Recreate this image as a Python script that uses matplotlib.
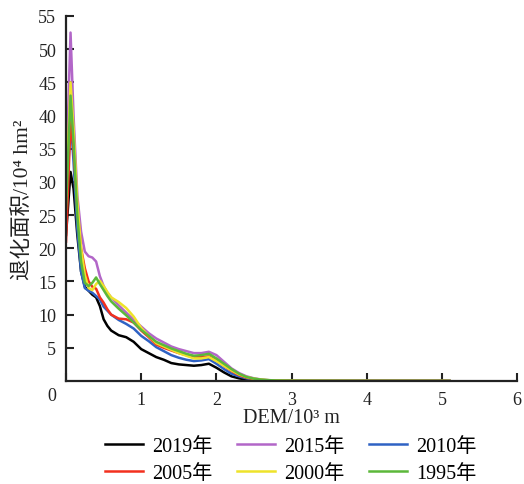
import matplotlib
matplotlib.use("Agg")
import matplotlib.pyplot as plt

plt.rcParams['font.family'] = ['Liberation Serif', 'DejaVu Serif', 'Noto Sans CJK SC']

dem = [0, 0.06, 0.1, 0.15, 0.2, 0.25, 0.3, 0.35, 0.4, 0.45, 0.5, 0.55, 0.6, 0.7, 0.8,
       0.9, 1.0, 1.1, 1.2, 1.3, 1.4, 1.5, 1.6, 1.7, 1.8, 1.9, 2.0, 2.1, 2.2, 2.3,
       2.4, 2.5, 2.6, 2.7, 2.8, 3.0, 3.5, 4.0, 4.5, 5.0, 5.1]

y2019 = [22, 31.5, 29, 22, 16.5, 14.2, 13.6, 13.0, 12.6, 11.3, 9.3, 8.3, 7.6, 6.9, 6.6,
         5.9, 4.8, 4.2, 3.6, 3.2, 2.7, 2.5, 2.4, 2.3, 2.4, 2.6, 2.0, 1.3, 0.7, 0.4,
         0.2, 0.12, 0.08, 0.05, 0.03, 0.02, 0.01, 0.01, 0.01, 0.01, 0.0]
y2015 = [30, 52.5, 40, 28, 22.5, 19.5, 18.8, 18.6, 18.0, 15.8, 14.3, 13.3, 12.6, 11.4, 10.3,
         9.2, 8.2, 7.2, 6.4, 5.8, 5.2, 4.8, 4.5, 4.2, 4.2, 4.4, 3.9, 2.9, 1.9, 1.2,
         0.7, 0.4, 0.22, 0.12, 0.07, 0.03, 0.02, 0.01, 0.01, 0.01, 0.0]
y2010 = [24, 40, 33, 23, 16.5, 14.0, 13.6, 13.3, 12.8, 12.3, 11.2, 10.6, 10.0, 9.2, 8.6,
         7.9, 6.8, 6.0, 5.1, 4.5, 3.9, 3.5, 3.2, 3.0, 3.1, 3.3, 2.6, 1.8, 1.1, 0.7,
         0.4, 0.22, 0.12, 0.07, 0.04, 0.02, 0.01, 0.01, 0.01, 0.01, 0.0]
y2005 = [21, 39, 35, 26, 20, 17, 15, 14.2, 13.9, 12.6, 11.8, 10.8, 10.0, 9.4, 9.3,
         8.8, 7.6, 6.6, 5.5, 5.0, 4.6, 4.2, 3.9, 3.6, 3.6, 3.7, 3.1, 2.3, 1.5, 0.9,
         0.5, 0.28, 0.15, 0.08, 0.05, 0.02, 0.01, 0.01, 0.01, 0.01, 0.0]
y2000 = [28, 45, 38, 27, 20, 16, 14.0, 13.7, 14.6, 15.1, 14.3, 13.4, 12.6, 11.9, 11.0,
         9.7, 8.0, 6.8, 5.7, 5.2, 4.7, 4.2, 3.8, 3.4, 3.4, 3.6, 3.0, 2.3, 1.6, 1.0,
         0.6, 0.35, 0.2, 0.12, 0.07, 0.03, 0.02, 0.01, 0.01, 0.01, 0.0]
y1995 = [26, 43, 36, 25, 18, 14.8, 14.3, 14.8, 15.6, 14.6, 13.7, 12.8, 12.0, 10.9, 9.9,
         8.8, 7.7, 6.8, 5.9, 5.4, 4.9, 4.5, 4.1, 3.8, 3.9, 4.1, 3.4, 2.6, 1.8, 1.1,
         0.6, 0.35, 0.2, 0.12, 0.07, 0.03, 0.02, 0.01, 0.01, 0.01, 0.0]

labels = ['2019年', '2015年', '2010年', '2005年', '2000年', '1995年']
series = [y2019, y2015, y2010, y2005, y2000, y1995]
colors = ['#000000', '#b266c8', '#2f62c4', '#f2301e', '#eee32a', '#5cb83a']

xticks = [0, 1, 2, 3, 4, 5, 6]
xticklabels = ['', '1', '2', '3', '4', '5', '6']
yticks = [5, 10, 15, 20, 25, 30, 35, 40, 45, 50, 55]

fig = plt.figure(figsize=(5.24, 4.85), dpi=100)
ax = fig.add_axes([0.126, 0.2124, 0.861, 0.7526])

handles = []
for lab, ys, c in zip(labels, series, colors):
    h, = ax.plot(dem, ys, color=c, lw=1.8, label=lab)
    handles.append(h)

ax.set_xlim(0, 6)
ax.set_ylim(0, 55)
ax.set_xticks(xticks)
ax.set_xticklabels(xticklabels)
ax.set_yticks(yticks)
ax.set_yticklabels([str(v) for v in yticks])
ax.tick_params(direction='in', length=6, width=1.5, labelsize=13, colors='#222222')
ax.tick_params(axis='y', pad=7)
ax.tick_params(axis='x', pad=7)
for s in ['top', 'right']:
    ax.spines[s].set_visible(False)
for s in ['left', 'bottom']:
    ax.spines[s].set_linewidth(1.6)
    ax.spines[s].set_color('#222222')

fig.text(52 / 524, 1 - 397 / 485, '0', ha='center', va='center', fontsize=13, color='#222222')

ax.set_xlabel('DEM/10³ m', fontsize=14.5, color='#222222', labelpad=0)
ax.set_ylabel('退化面积/10⁴ hm²', fontsize=15.5, color='#222222', labelpad=4)

order = [0, 3, 1, 4, 2, 5]
fig.legend(handles=[handles[i] for i in order], labels=[labels[i] for i in order],
           ncol=3, loc='upper center',
           bbox_to_anchor=(0.555, 0.126), frameon=False, fontsize=14.5,
           handlelength=1.9, columnspacing=1.2, handletextpad=0.45,
           labelspacing=0.38, borderpad=0.2)

fig.savefig('out.png', dpi=100)
